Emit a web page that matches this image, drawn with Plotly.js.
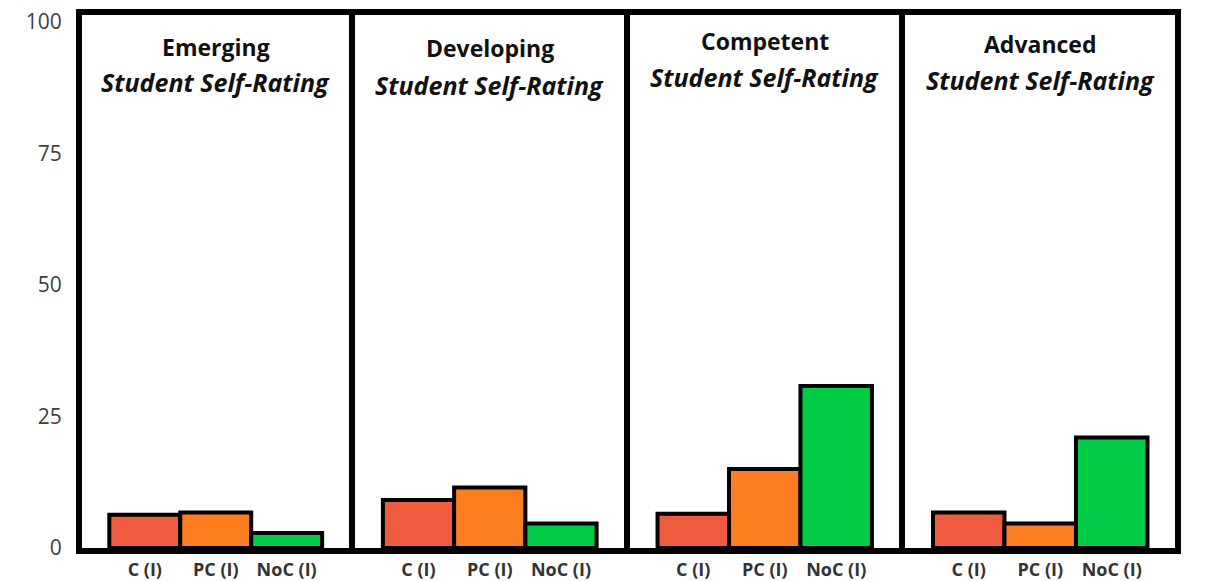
<!DOCTYPE html>
<html>
<head>
<meta charset="utf-8">
<script src="https://cdn.plot.ly/plotly-3.0.1.min.js"></script>
<style>html,body{margin:0;padding:0;background:#fff}#chart{width:1217px;height:581px}</style>
</head>
<body>
<div id="chart"></div>
<script>
// ---- data ----
const categories = ['C (I)', 'PC (I)', 'NoC (I)'];
const panelNames = ['Emerging', 'Developing', 'Competent', 'Advanced'];
const subtitle = 'Student Self-Rating';
const emerging   = [6.3, 6.75, 2.85];
const developing = [9.1, 11.5, 4.65];
const competent  = [6.5, 15.0, 30.8];
const advanced   = [6.75, 4.65, 21.0];
const yTickVals  = [0, 25, 50, 75, 100];
const yTickText  = ['0', '25', '50', '75', '100'];

// ---- style ----
const barColors = ['#EF5B3F', '#FD7E20', '#00CC47'];
const seriesList = [emerging, developing, competent, advanced];
const domains = [[0, 0.2447], [0.2502, 0.4959], [0.5014, 0.7479], [0.7534, 1]];
const titleY = [[0.940, 0.874], [0.938, 0.869], [0.951, 0.884], [0.946, 0.878]];
const font = 'Open Sans, Liberation Sans, sans-serif';

const traces = [];
const layout = {
  width: 1217, height: 581,
  margin: {l: 82, r: 42, t: 15, b: 33},
  paper_bgcolor: '#fff', plot_bgcolor: '#fff',
  showlegend: false,
  bargap: 0,
  annotations: []
};

const n = panelNames.length;
for (let i = 0; i < n; i++) {
  const sx = i === 0 ? '' : String(i + 1);
  traces.push({
    type: 'bar',
    x: categories,
    y: seriesList[i],
    xaxis: 'x' + sx,
    yaxis: 'y' + sx,
    marker: {color: barColors, line: {color: '#000', width: 4}},
    hoverinfo: 'x+y'
  });
  layout['xaxis' + sx] = {
    domain: domains[i],
    anchor: 'y' + sx,
    type: 'category',
    range: [-0.885, 2.885],
    showline: true, mirror: true, linecolor: '#000', linewidth: 6,
    showgrid: false, zeroline: false, ticks: '',
    tickfont: {family: font, size: 18, color: '#333', weight: 700},
    fixedrange: true
  };
  layout['yaxis' + sx] = {
    anchor: 'x' + sx,
    range: [0, 101.3],
    side: i === 0 ? 'left' : 'right',
    showline: true, mirror: i === 0, linecolor: '#000', linewidth: 6,
    showgrid: false, zeroline: false, ticks: '',
    tickvals: yTickVals, ticktext: yTickText,
    showticklabels: i === 0,
    ticklabelstandoff: 10,
    tickfont: {family: font, size: 21, color: '#404040'},
    fixedrange: true
  };
  layout.annotations.push({
    xref: 'x' + sx + ' domain', yref: 'paper', x: 0.5, y: titleY[i][0],
    xanchor: 'center', yanchor: 'middle',
    text: '<b>' + panelNames[i] + '</b>', showarrow: false,
    font: {family: font, size: 23, color: '#111'}
  });
  layout.annotations.push({
    xref: 'x' + sx + ' domain', yref: 'paper', x: 0.5, y: titleY[i][1],
    xanchor: 'center', yanchor: 'middle',
    text: '<b><i>' + subtitle + '</i></b>', showarrow: false,
    font: {family: font, size: 25, color: '#111'}
  });
}

Plotly.newPlot('chart', traces, layout, {displayModeBar: false, staticPlot: true});
</script>
</body>
</html>
